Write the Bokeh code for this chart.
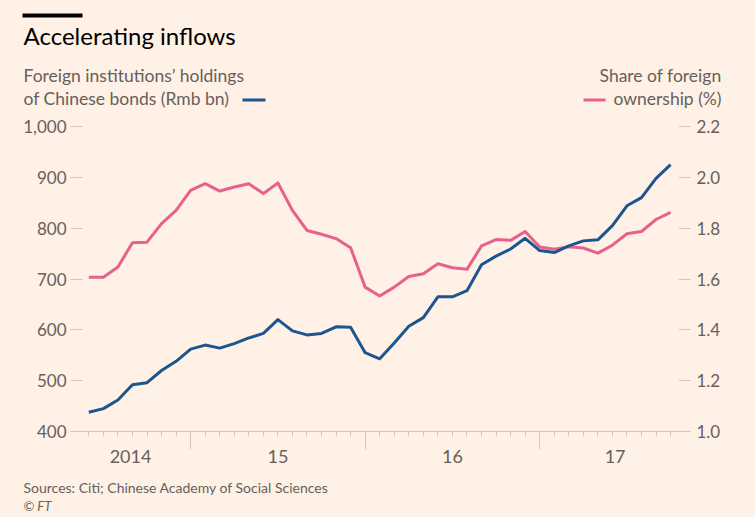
import pandas as pd
from bokeh.plotting import figure
from bokeh.layouts import column
from bokeh.models import (LinearAxis, Range1d, FixedTicker, NumeralTickFormatter, Label)
from bokeh.embed import file_html
from bokeh.resources import INLINE

# ---------------- data ----------------
months = [str(p) for p in pd.period_range("2014-06", "2017-10", freq="M")]
holdings_rmb_bn = [438, 445, 462, 492, 496, 520, 538, 562, 570, 564,
                   573, 584, 593, 620, 598, 590, 593, 606, 605, 555,
                   543, 574, 607, 624, 665, 665, 677, 728, 745, 759,
                   780, 756, 752, 765, 775, 777, 805, 844, 860, 898, 925]
foreign_share_pct = [1.607, 1.607, 1.647, 1.743, 1.745, 1.818, 1.870, 1.949, 1.975, 1.946,
                     1.962, 1.975, 1.936, 1.978, 1.870, 1.791, 1.776, 1.759, 1.723, 1.568,
                     1.533, 1.568, 1.610, 1.621, 1.660, 1.644, 1.638, 1.730, 1.755, 1.752,
                     1.787, 1.726, 1.717, 1.727, 1.722, 1.702, 1.733, 1.778, 1.787, 1.834, 1.862]
left_ticks = [400, 500, 600, 700, 800, 900, 1000]
right_ticks = [1.0, 1.2, 1.4, 1.6, 1.8, 2.0, 2.2]
year_labels = ["2014", "15", "16", "17"]
year_starts = [2014, 2015, 2016, 2017]

BG = "#fff1e5"
BLUE = "#1d5590"
PINK = "#e8608c"
GREY = "#66605c"
TICK = "#d2c8be"
FONT = "Lato"
W = 755
HEAD_H, MAIN_H, FOOT_H = 114, 358, 45


def month_index(s):
    y, m = s.split("-")
    return (int(y) - 2014) * 12 + int(m) - 1


x = [month_index(m) for m in months]
x0, x1 = x[0] - 1.26, x[-1] + 1.37


def blank(h, top):
    f = figure(width=W, height=h, x_range=Range1d(0, W), y_range=Range1d(top + h, top),
               output_backend="svg", toolbar_location=None, x_axis_type=None, y_axis_type=None,
               background_fill_color=BG, border_fill_color=BG, outline_line_color=None,
               min_border_left=0, min_border_right=0, min_border_top=0, min_border_bottom=0)
    f.frame_align = False
    f.xgrid.visible = False
    f.ygrid.visible = False
    return f


def txt(f, px, py, s, size, color=GREY, align="left", style="normal"):
    f.add_layout(Label(x=px, y=py, text=s, text_align=align, text_baseline="middle",
                       text_font=FONT, text_font_size=size, text_color=color,
                       text_font_style=style))


# ---------------- header ----------------
head = blank(HEAD_H, 0)
head.quad(left=[22], right=[82], top=[13], bottom=[17], fill_color="#000000", line_color=None)
txt(head, 23, 35, "Accelerating inflows", "24px", color="#000000")
txt(head, 23, 75.3, "Foreign institutions\u2019 holdings", "17.5px")
txt(head, 23, 98, "of Chinese bonds (Rmb bn)", "17.5px")
head.quad(left=[242], right=[265], top=[98], bottom=[101], fill_color=BLUE, line_color=None)
txt(head, 721, 75.3, "Share of foreign", "17.5px", align="right")
txt(head, 721, 98, "ownership (%)", "17.5px", align="right")
head.quad(left=[583], right=[605], top=[98], bottom=[101], fill_color=PINK, line_color=None)

# ---------------- main chart ----------------
p = figure(width=W, height=MAIN_H, x_range=Range1d(x0, x1), y_range=Range1d(400, 1000),
           output_backend="svg", toolbar_location=None,
           background_fill_color=BG, border_fill_color=BG, outline_line_color=None,
           min_border_left=70, min_border_right=W - 690, min_border_top=126 - HEAD_H,
           min_border_bottom=HEAD_H + MAIN_H - 431)
p.xgrid.visible = False
p.ygrid.visible = False

# x axis 1: year boundaries (long ticks) + monthly minor ticks, no labels
xa = p.xaxis[0]
boundaries = [(y - 2014) * 12 for y in year_starts[1:]]
xa.ticker = FixedTicker(ticks=boundaries, minor_ticks=x)
xa.axis_line_color = TICK
xa.major_tick_line_color = TICK
xa.minor_tick_line_color = TICK
xa.major_tick_in = 0
xa.major_tick_out = 18
xa.minor_tick_in = 0
xa.minor_tick_out = 5
xa.major_label_text_color = None
xa.major_label_text_font_size = "1px"
xa.major_label_standoff = 0

# x axis 2: year labels centred on the visible part of each year
label_pos = []
for ys in year_starts:
    a = max((ys - 2014) * 12, x0)
    b = min((ys - 2014) * 12 + 12, x1)
    label_pos.append((a + b) / 2)
xb = LinearAxis(ticker=FixedTicker(ticks=label_pos, minor_ticks=[]),
                major_label_overrides={pos: lab for pos, lab in zip(label_pos, year_labels)})
xb.axis_line_color = None
xb.major_tick_line_color = None
xb.minor_tick_line_color = None
xb.major_tick_in = 0
xb.major_tick_out = 0
xb.major_label_standoff = 0
xb.major_label_text_font = FONT
xb.major_label_text_font_size = "18px"
xb.major_label_text_color = GREY
p.add_layout(xb, "below")

# left axis
ya = p.yaxis[0]
ya.ticker = FixedTicker(ticks=left_ticks)
ya.formatter = NumeralTickFormatter(format="0,0")
ya.axis_line_color = None
ya.major_tick_line_color = TICK
ya.minor_tick_line_color = None
ya.major_tick_in = 12
ya.major_tick_out = 0
ya.major_label_standoff = 4
ya.major_label_text_font = FONT
ya.major_label_text_font_size = "17px"
ya.major_label_text_color = GREY

# right axis
p.extra_y_ranges = {"share": Range1d(1.0, 2.2)}
ra = LinearAxis(y_range_name="share", ticker=FixedTicker(ticks=right_ticks),
                formatter=NumeralTickFormatter(format="0.0"))
ra.axis_line_color = None
ra.major_tick_line_color = TICK
ra.minor_tick_line_color = None
ra.major_tick_in = 12
ra.major_tick_out = 0
ra.major_label_standoff = 6
ra.major_label_text_font = FONT
ra.major_label_text_font_size = "17px"
ra.major_label_text_color = GREY
p.add_layout(ra, "right")

p.line(x, foreign_share_pct, y_range_name="share", line_color=PINK, line_width=3,
       line_join="round")
p.line(x, holdings_rmb_bn, line_color=BLUE, line_width=3, line_join="round")

# ---------------- footer ----------------
foot_top = HEAD_H + MAIN_H
foot = blank(FOOT_H, foot_top)
txt(foot, 23, 487, "Sources: Citi; Chinese Academy of Social Sciences", "14px")
txt(foot, 23, 505, "\u00a9 FT", "13px", style="italic")

layout = column(head, p, foot, spacing=0, styles={"background-color": BG})

open("out.html", "w").write(file_html(layout, INLINE).replace(
    "</head>", "<style>html,body{background:#fff1e5;}</style></head>"))
